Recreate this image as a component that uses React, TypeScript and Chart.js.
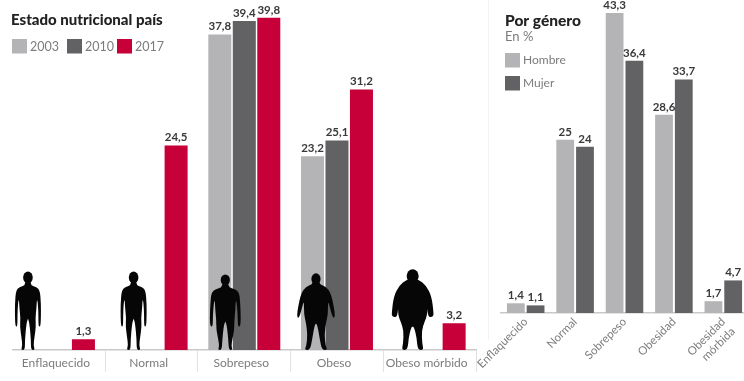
import React, { useEffect, useRef } from "react";
import { Chart, registerables } from "chart.js";

Chart.register(...registerables);

const FONT = "Lato, 'Open Sans', sans-serif";

const nutritionCategories = ["Enflaquecido", "Normal", "Sobrepeso", "Obeso", "Obeso mórbido"];
const values2003 = [null, null, 37.8, 23.2, null];
const values2010 = [null, null, 39.4, 25.1, null];
const values2017 = [1.3, 24.5, 39.8, 31.2, 3.2];

const genderCategories = ["Enflaquecido", "Normal", "Sobrepeso", "Obesidad", ["Obesidad", "mórbida"]];
const menValues = [1.4, 25, 43.3, 28.6, 1.7];
const womenValues = [1.1, 24, 36.4, 33.7, 4.7];

const LIGHT = "#b4b4b6";
const DARK = "#626264";
const RED = "#c70039";
const LABEL = "#7c7c7c";

type Pt = [number, number];

// Right half of each body outline: x from the centre line, y from the top of the figure.
const BODY_SLIM: Pt[] = [[0, 10], [3, 10], [3, 14], [8.5, 15.5], [12, 19], [13, 32], [13, 46], [12.5, 55], [10.5, 55], [10.5, 44], [10, 32], [9, 27], [8.5, 37], [7.5, 46], [8, 55], [6.5, 66], [5.5, 74], [7, 78.5], [3, 78.5], [3, 68], [1.5, 52], [0, 47]];
const BODY_OVER: Pt[] = [[0, 9.5], [3.5, 9.5], [3.5, 13], [9.5, 14.5], [14, 18], [15, 30], [15.5, 44], [15, 52], [12.5, 52], [12.5, 42], [11.5, 29], [10.5, 25], [10, 36], [9, 46], [9, 55], [7, 65], [6, 72], [7.5, 75.5], [3.5, 75.5], [3, 65], [1.5, 51], [0, 47]];
const BODY_OBESE: Pt[] = [[0, 8], [3.5, 8], [4, 11], [10, 13], [15, 20], [18, 34], [19, 42], [18, 45], [16, 42], [14, 34], [12, 27], [12, 41], [10, 49], [8.5, 61], [9.5, 72], [11.5, 76.5], [6, 76.5], [4, 67], [1.5, 52], [0, 50]];
const BODY_MORBID: Pt[] = [[0, 9], [6, 10], [13.5, 16], [19, 27], [21, 44], [20.5, 47], [16.5, 48], [15, 44], [14.5, 38], [14.5, 46], [12, 52], [9, 61], [9.5, 74], [11, 80.5], [5, 80.5], [4, 68], [1.5, 58], [0, 57]];

const figures = [
  { offset: -31, outline: BODY_SLIM, headW: 4.8, headH: 6, headY: 6 },
  { offset: -18, outline: BODY_SLIM, headW: 4.8, headH: 6, headY: 6 },
  { offset: -19, outline: BODY_OVER, headW: 4.6, headH: 5.6, headY: 5.5 },
  { offset: -21, outline: BODY_OBESE, headW: 4.6, headH: 5.8, headY: 5.5 },
  { offset: -17, outline: BODY_MORBID, headW: 6, headH: 6.8, headY: 6.5 },
];

function tracePath(ctx: CanvasRenderingContext2D, pts: Pt[]) {
  const n = pts.length;
  const mid = (a: Pt, b: Pt): Pt => [(a[0] + b[0]) / 2, (a[1] + b[1]) / 2];
  const m0 = mid(pts[n - 1], pts[0]);
  ctx.moveTo(m0[0], m0[1]);
  for (let i = 0; i < n; i++) {
    const m = mid(pts[i], pts[(i + 1) % n]);
    ctx.quadraticCurveTo(pts[i][0], pts[i][1], m[0], m[1]);
  }
  ctx.closePath();
}

const silhouettePlugin = {
  id: "silhouettes",
  afterDatasetsDraw(chart: any) {
    const { ctx, scales } = chart;
    figures.forEach((fig, i) => {
      const tallest = Math.max(...fig.outline.map((p) => p[1]));
      const cx = scales.x.getPixelForValue(i) + fig.offset;
      const top = scales.x.top - tallest;
      ctx.save();
      ctx.translate(cx, top);
      ctx.fillStyle = "#060606";
      ctx.beginPath();
      ctx.ellipse(0, fig.headY, fig.headW, fig.headH, 0, 0, Math.PI * 2);
      ctx.fill();
      const full: Pt[] = [...fig.outline, ...[...fig.outline].reverse().map(([x, y]) => [-x, y] as Pt)];
      ctx.beginPath();
      tracePath(ctx, full);
      ctx.fill();
      ctx.restore();
    });
  },
};

const valueLabelPlugin = {
  id: "valueLabels",
  afterDatasetsDraw(chart: any) {
    const { ctx } = chart;
    ctx.save();
    ctx.font = `700 11.5px ${FONT}`;
    ctx.fillStyle = "#3a3a3a";
    ctx.textAlign = "center";
    ctx.textBaseline = "bottom";
    chart.data.datasets.forEach((ds: any, d: number) => {
      chart.getDatasetMeta(d).data.forEach((bar: any, i: number) => {
        const v = ds.data[i];
        if (v == null) return;
        ctx.fillText(String(v).replace(".", ","), bar.x, bar.y - 2);
      });
    });
    ctx.restore();
  },
};

// Heading and colour key, placed relative to the canvas origin.
function headingPlugin(opts: {
  title: string;
  subtitle?: string;
  x: number;
  titleY: number;
  titleSize: number;
  keySize: number;
  keys: { x: number; y: number; textX: number }[];
}) {
  return {
    id: "heading",
    afterDraw(chart: any) {
      const { ctx } = chart;
      ctx.save();
      ctx.textBaseline = "middle";
      ctx.textAlign = "left";
      ctx.font = `900 ${opts.titleSize}px ${FONT}`;
      ctx.fillStyle = "#222";
      ctx.fillText(opts.title, opts.x, opts.titleY);
      if (opts.subtitle) {
        ctx.font = `400 13px ${FONT}`;
        ctx.fillStyle = LABEL;
        ctx.fillText(opts.subtitle, opts.x, opts.titleY + 16);
      }
      ctx.font = `400 ${opts.keySize}px ${FONT}`;
      chart.data.datasets.forEach((ds: any, i: number) => {
        const k = opts.keys[i];
        ctx.fillStyle = ds.backgroundColor;
        ctx.fillRect(k.x, k.y, 15, 14.5);
        ctx.fillStyle = LABEL;
        ctx.fillText(ds.label, k.textX, k.y + 7.5);
      });
      ctx.restore();
    },
  };
}

function makeNutritionChart(canvas: HTMLCanvasElement) {
  return new Chart(canvas, {
    type: "bar",
    data: {
      labels: nutritionCategories,
      datasets: [
        { label: "2003", data: values2003, backgroundColor: LIGHT },
        { label: "2010", data: values2010, backgroundColor: DARK },
        { label: "2017", data: values2017, backgroundColor: RED },
      ],
    },
    options: {
      responsive: false,
      animation: false,
      datasets: { bar: { categoryPercentage: 0.7925, barPercentage: 0.94 } },
      layout: { padding: { left: 12.6, right: 14, top: 10, bottom: 0 } },
      plugins: { legend: { display: false }, tooltip: { enabled: false } },
      scales: {
        y: { display: false, min: 0, max: 40.72 },
        x: {
          afterFit: (s: any) => { s.height = 31; },
          border: { color: "#c9c9c9", width: 1.5 },
          grid: {
            offset: true,
            drawOnChartArea: false,
            drawTicks: true,
            tickLength: 22,
            tickColor: (c: any) => (c.index === 0 || c.index === 5 ? "transparent" : "#e2e2e2"),
          },
          ticks: {
            autoSkip: false,
            maxRotation: 0,
            minRotation: 0,
            padding: -16,
            labelOffset: -3,
            color: LABEL,
            font: { family: FONT, size: 12 },
          },
        },
      },
    },
    plugins: [
      silhouettePlugin,
      valueLabelPlugin,
      headingPlugin({
        title: "Estado nutricional país",
        x: 11,
        titleY: 20,
        titleSize: 15,
        keySize: 12.5,
        keys: [
          { x: 12, y: 39, textX: 30 },
          { x: 67, y: 39, textX: 85 },
          { x: 117, y: 39, textX: 135 },
        ],
      }),
    ],
  } as any);
}

function makeGenderChart(canvas: HTMLCanvasElement) {
  return new Chart(canvas, {
    type: "bar",
    data: {
      labels: genderCategories,
      datasets: [
        { label: "Hombre", data: menValues, backgroundColor: LIGHT },
        { label: "Mujer", data: womenValues, backgroundColor: DARK },
      ],
    },
    options: {
      responsive: false,
      animation: false,
      datasets: { bar: { categoryPercentage: 0.8, barPercentage: 0.9 } },
      layout: { padding: { left: 31, right: 0, top: 10, bottom: 0 } },
      plugins: { legend: { display: false }, tooltip: { enabled: false } },
      scales: {
        y: { display: false, min: 0, max: 43.72 },
        x: {
          afterFit: (s: any) => { s.height = 68; },
          border: { color: "#c9c9c9", width: 1.5 },
          grid: { drawOnChartArea: false, drawTicks: false },
          ticks: {
            autoSkip: false,
            maxRotation: 45,
            minRotation: 45,
            padding: 2,
            color: LABEL,
            font: { family: FONT, size: 11.5 },
          },
        },
      },
    },
    plugins: [
      valueLabelPlugin,
      headingPlugin({
        title: "Por género",
        subtitle: "En %",
        x: 35,
        titleY: 21,
        titleSize: 15.5,
        keySize: 12,
        keys: [
          { x: 35, y: 53, textX: 53 },
          { x: 35, y: 76, textX: 53 },
        ],
      }),
    ],
  } as any);
}

export default function App() {
  const leftRef = useRef<HTMLCanvasElement>(null);
  const rightRef = useRef<HTMLCanvasElement>(null);

  useEffect(() => {
    const left = makeNutritionChart(leftRef.current!);
    const right = makeGenderChart(rightRef.current!);
    return () => {
      left.destroy();
      right.destroy();
    };
  }, []);

  return (
    <div style={{ position: "fixed", left: 0, top: 0, width: 744, height: 381, overflow: "hidden", background: "#fff" }}>
      <div style={{ position: "absolute", left: 488, top: 0, width: 1, height: 340, background: "#f3f3f3" }} />
      <canvas ref={leftRef} width={490} height={381} style={{ position: "absolute", left: 0, top: 0 }} />
      <canvas ref={rightRef} width={278} height={381} style={{ position: "absolute", left: 470, top: 0 }} />
    </div>
  );
}
